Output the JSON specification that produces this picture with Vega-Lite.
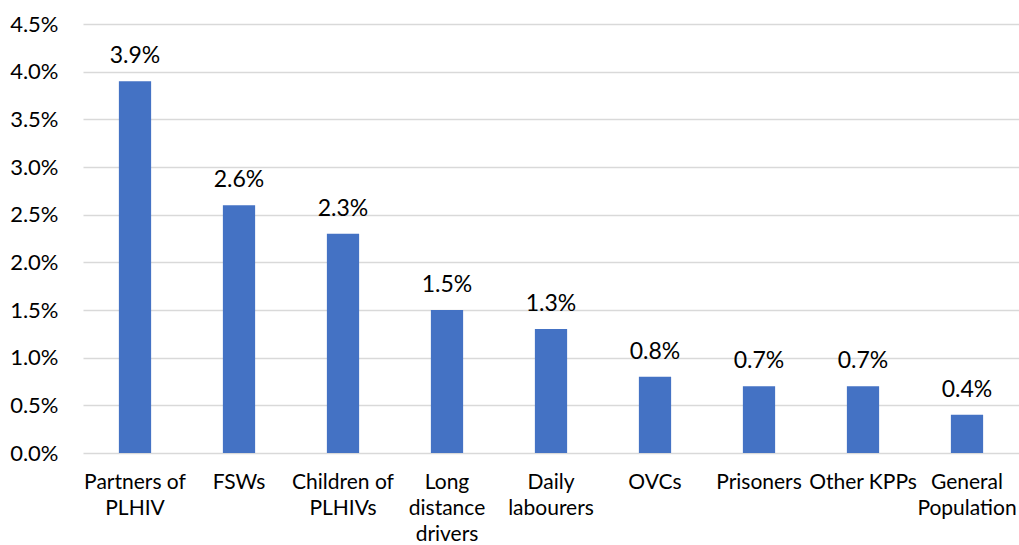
{
  "$schema": "https://vega.github.io/schema/vega-lite/v6.json",
  "width": 936,
  "height": 429,
  "autosize": {"type": "none"},
  "padding": {"left": 83, "top": 24, "right": 0, "bottom": 92},
  "background": "white",
  "config": {
    "view": {"stroke": null},
    "font": "Lato"
  },
  "data": {
    "values": [
      {"group": "Partners of|PLHIV", "value": 0.039},
      {"group": "FSWs", "value": 0.026},
      {"group": "Children of|PLHIVs", "value": 0.023},
      {"group": "Long|distance|drivers", "value": 0.015},
      {"group": "Daily|labourers", "value": 0.013},
      {"group": "OVCs", "value": 0.008},
      {"group": "Prisoners", "value": 0.007},
      {"group": "Other KPPs", "value": 0.007},
      {"group": "General|Population", "value": 0.004}
    ]
  },
  "encoding": {
    "x": {
      "field": "group",
      "type": "nominal",
      "sort": null,
      "scale": {"paddingInner": 0.69, "paddingOuter": 0.345},
      "axis": {
        "title": null,
        "labelAngle": 0,
        "labelExpr": "split(datum.label, '|')",
        "labelFont": "Lato",
        "labelFontSize": 21,
        "labelColor": "#000000",
        "labelLineHeight": 26,
        "labelPadding": 18,
        "labelBaseline": "top",
        "domain": false,
        "ticks": false,
        "labelLimit": 200
      }
    },
    "y": {
      "field": "value",
      "type": "quantitative",
      "scale": {"domain": [0, 0.045]},
      "axis": {
        "title": null,
        "format": ".1%",
        "values": [0, 0.005, 0.01, 0.015, 0.02, 0.025, 0.03, 0.035, 0.04, 0.045],
        "labelFont": "Lato",
        "labelFontSize": 22,
        "labelColor": "#000000",
        "labelPadding": 25,
        "domain": false,
        "ticks": false,
        "gridColor": "#d9d9d9",
        "gridWidth": 1.5
      }
    }
  },
  "layer": [
    {"mark": {"type": "bar", "color": "#4472c4"}},
    {
      "mark": {"type": "text", "dy": -18, "fontSize": 23, "font": "Lato", "color": "#000000", "baseline": "alphabetic"},
      "encoding": {"text": {"field": "value", "type": "quantitative", "format": ".1%"}}
    }
  ]
}
